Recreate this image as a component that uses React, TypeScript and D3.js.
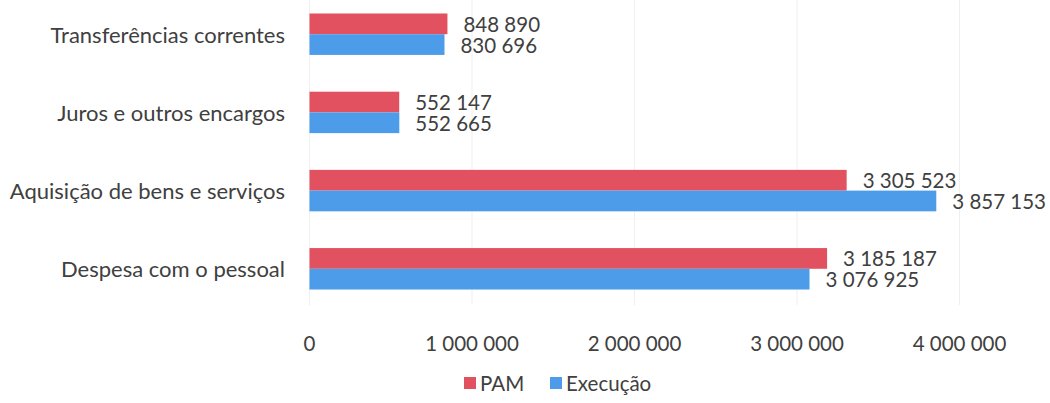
import React from "react";
import * as d3 from "d3";

const categories = [
  "Transferências correntes",
  "Juros e outros encargos",
  "Aquisição de bens e serviços",
  "Despesa com o pessoal",
];
const seriesNames = ["PAM", "Execução"];
const pamValues = [848890, 552147, 3305523, 3185187];
const execValues = [830696, 552665, 3857153, 3076925];
const xTicks = [0, 1000000, 2000000, 3000000, 4000000];
const colors = ["#E2515F", "#4D9CEA"];

const W = 1050;
const H = 403;
const FONT = "Lato, 'Open Sans', sans-serif";
const TEXT = "#404040";

const fmt = (v: number) => d3.format(",")(v).replace(/,/g, " ");

export default function App() {
  const x = d3.scaleLinear().domain([0, 4000000]).range([309.5, 959.5]);
  const y = d3
    .scaleBand<string>()
    .domain(categories)
    .range([0, 303])
    .paddingInner(0.47)
    .paddingOuter(0.1725);
  const inner = d3
    .scaleBand<string>()
    .domain(seriesNames)
    .range([0, y.bandwidth()]);
  const series = [pamValues, execValues];

  return (
    <svg
      width={W}
      height={H}
      style={{ position: "absolute", left: 0, top: 0, background: "#fff" }}
      fontFamily={FONT}
    >
      {xTicks.map((t) => (
        <line
          key={"g" + t}
          x1={x(t)}
          x2={x(t)}
          y1={0}
          y2={305}
          stroke="#efefef"
          strokeWidth={1}
        />
      ))}
      {categories.map((c, i) => (
        <g key={c}>
          <text
            x={285}
            y={(y(c) as number) + y.bandwidth() / 2}
            textAnchor="end"
            dominantBaseline="central"
            fontSize={22}
            fill={TEXT}
          >
            {c}
          </text>
          {seriesNames.map((s, k) => {
            const v = series[k][i];
            const yy = (y(c) as number) + (inner(s) as number);
            return (
              <g key={s}>
                <rect
                  x={x(0)}
                  y={yy}
                  width={x(v) - x(0)}
                  height={inner.bandwidth()}
                  fill={colors[k]}
                />
                <text
                  x={x(v) + 16}
                  y={yy + inner.bandwidth() / 2}
                  dominantBaseline="central"
                  fontSize={20.5}
                  fill={TEXT}
                >
                  {fmt(v)}
                </text>
              </g>
            );
          })}
        </g>
      ))}
      {xTicks.map((t) => (
        <text
          key={"t" + t}
          x={x(t)}
          y={343}
          textAnchor="middle"
          dominantBaseline="central"
          fontSize={20.5}
          fill={TEXT}
        >
          {fmt(t)}
        </text>
      ))}
      {(() => {
        const items = [
          { name: seriesNames[0], x: 464 },
          { name: seriesNames[1], x: 550 },
        ];
        return items.map((it, k) => (
          <g key={it.name}>
            <rect x={it.x} y={377} width={12} height={12} fill={colors[k]} />
            <text
              x={it.x + 16}
              y={383}
              dominantBaseline="central"
              fontSize={20.5}
              fill={TEXT}
            >
              {it.name}
            </text>
          </g>
        ));
      })()}
    </svg>
  );
}
